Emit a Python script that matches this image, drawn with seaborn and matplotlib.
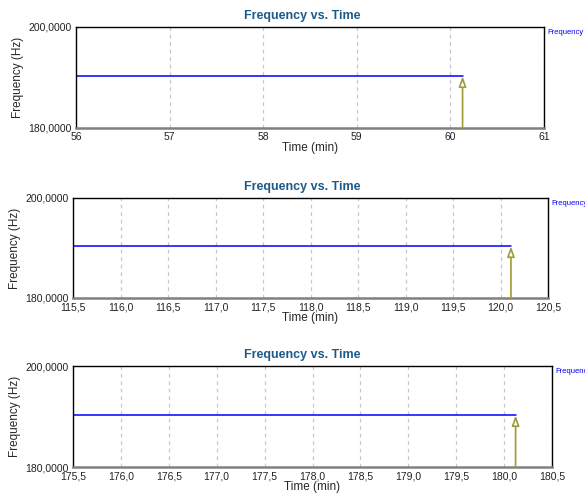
import matplotlib
matplotlib.use("Agg")
import matplotlib.pyplot as plt
import matplotlib.ticker as mticker
from matplotlib.patches import FancyArrowPatch
import numpy as np
import pandas as pd
import seaborn as sns

sns.set_style("white")
plt.rcParams['font.family'] = ['Liberation Sans', 'DejaVu Sans']

# data
x_limits = [(56.0, 61.0), (115.5, 120.5), (175.5, 180.5)]
x_steps = [1.0, 0.5, 0.5]
x_decimals = [0, 1, 1]
line_start = [56.0, 115.5, 175.5]
line_end = [60.13, 120.11, 180.12]  # where the blue trace stops / arrow sits
freq_value = [190.2, 190.3, 190.2]
y_limits = (180.0, 200.0)

title_text = "Frequency vs. Time"
xlabel_text = "Time (min)"
ylabel_text = "Frequency (Hz)"
legend_text = "Frequency"

W, H = 585, 494
# axes boxes in pixels: left, top, right, bottom
boxes = [(76, 27, 544, 128), (73, 198, 548, 298), (73, 366, 552, 467)]

fig = plt.figure(figsize=(W / 100, H / 100), dpi=100)

for k in range(3):
    l, t, r, b = boxes[k]
    ax = fig.add_axes([l / W, 1 - b / H, (r - l) / W, (b - t) / H])
    df = pd.DataFrame({"t": [line_start[k], line_end[k]],
                       "f": [freq_value[k], freq_value[k]]})
    sns.lineplot(data=df, x="t", y="f", ax=ax, color="#0000ff", lw=1.1)
    ax.set_xlim(*x_limits[k])
    ax.set_ylim(*y_limits)
    ax.set_yticks([y_limits[0], y_limits[1]])
    ax.yaxis.set_major_formatter(mticker.FuncFormatter(lambda v, p: ("%.4f" % v).replace(".", ",")))
    dec = x_decimals[k]
    ax.xaxis.set_major_locator(mticker.MultipleLocator(x_steps[k]))
    ax.xaxis.set_major_formatter(mticker.FuncFormatter(lambda v, p, d=dec: ("%.*f" % (d, v)).replace(".", ",")))
    ax.grid(axis="x", color="#c8c8c8", ls=(0, (3, 3)), lw=0.9)
    ax.grid(axis="y", visible=False)
    ax.tick_params(axis="both", length=2, pad=1, labelsize=7.5, colors="#222222")
    for s in ["left", "top", "right"]:
        ax.spines[s].set_color("black")
        ax.spines[s].set_linewidth(1.0)
    ax.spines["bottom"].set_color("#808080")
    ax.spines["bottom"].set_linewidth(1.8)
    ax.set_xlabel(xlabel_text, fontsize=8.5, labelpad=0)
    ax.set_ylabel(ylabel_text, fontsize=8.5, labelpad=3)

    # event arrow pointing up to the trace
    arr = FancyArrowPatch((line_end[k], y_limits[0]), (line_end[k], freq_value[k]),
                          arrowstyle="-|>,head_length=6,head_width=2.2",
                          color="#a09a38", fc="white", lw=1.2,
                          shrinkA=0, shrinkB=0, clip_on=False, zorder=3)
    ax.add_patch(arr)

    fig.text(302 / W, 1 - (t - 11) / H, title_text, ha="center", va="center",
             fontsize=9, fontweight="bold", color="#1b5a8a")
    fig.text((r + 3) / W, 1 - (t + 5) / H, legend_text, ha="left", va="center",
             fontsize=5.5, color="#0000ff")

fig.savefig("out.png", dpi=100)
